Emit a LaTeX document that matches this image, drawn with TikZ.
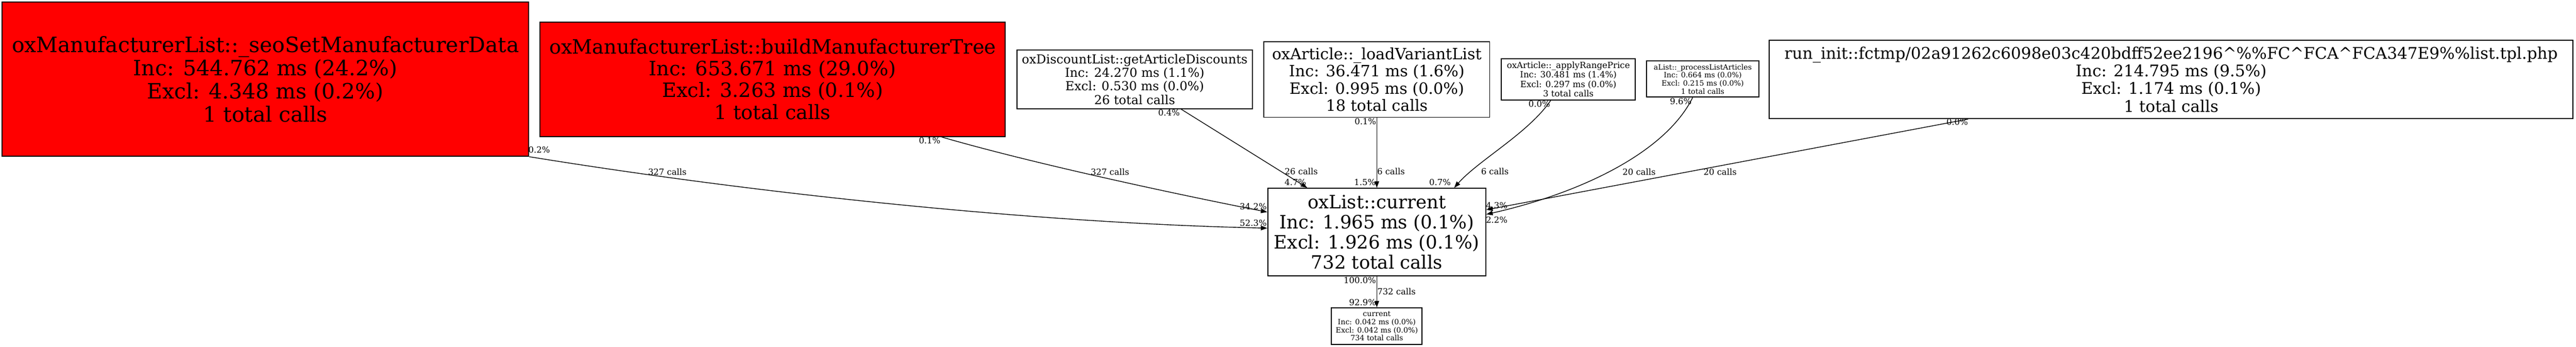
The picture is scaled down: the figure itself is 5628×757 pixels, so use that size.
\documentclass[tikz,border=0pt]{standalone}
\usepackage{fontspec}
\setmainfont{DejaVu Serif}
\usetikzlibrary{arrows.meta}

\newcommand\pxfont[1]{\fontsize{\fpeval{#1*0.28453}pt}{\fpeval{#1*0.28453*1.1}pt}\selectfont}

\tikzset{
  func/.style={draw, line width=0.6pt, align=center, inner sep=0pt},
  hot/.style={func, fill=red},
  call/.style={draw, line width=0.45pt, -{Triangle[length=0.14cm,width=0.1cm]}},
  via/.style 2 args={to path={.. controls #1 and #2 .. (\tikztotarget)}},
}

\begin{document}
\begin{tikzpicture}[x=0.01cm, y=-0.01cm]

      \useasboundingbox (0,0) rectangle (5628,757);

      \begin{scope}[every node/.style={func}]
        \node[hot, minimum width=11.5cm, minimum height=3.36cm, font=\pxfont{46}] (1) at (580,173)
          {oxManufacturerList::\_seoSetManufacturerData\\Inc: 544.762 ms (24.2\%)\\Excl: 4.348 ms (0.2\%)\\1 total calls};
        \node[hot, minimum width=10.16cm, minimum height=2.5cm, font=\pxfont{43}] (2) at (1688,173)
          {oxManufacturerList::buildManufacturerTree\\Inc: 653.671 ms (29.0\%)\\Excl: 3.263 ms (0.1\%)\\1 total calls};
        \node[minimum width=5.14cm, minimum height=1.28cm, font=\pxfont{27}] (3) at (2479,173)
          {oxDiscountList::getArticleDiscounts\\Inc: 24.270 ms (1.1\%)\\Excl: 0.530 ms (0.0\%)\\26 total calls};
        \node[minimum width=4.93cm, minimum height=1.65cm, font=\pxfont{34}] (4) at (3008,173.5)
          {oxArticle::\_loadVariantList\\Inc: 36.471 ms (1.6\%)\\Excl: 0.995 ms (0.0\%)\\18 total calls};
        \node[minimum width=2.93cm, minimum height=0.9cm, font=\pxfont{18.7}] (5) at (3426.5,173)
          {oxArticle::\_applyRangePrice\\Inc: 30.481 ms (1.4\%)\\Excl: 0.297 ms (0.0\%)\\3 total calls};
        \node[minimum width=2.46cm, minimum height=0.79cm, font=\pxfont{16}] (6) at (3720,172.5)
          {aList::\_processListArticles\\Inc: 0.664 ms (0.0\%)\\Excl: 0.215 ms (0.0\%)\\1 total calls};
        \node[minimum width=17.55cm, minimum height=1.71cm, font=\pxfont{35}] (7) at (4743.5,173.5)
          {run\_init::fctmp/02a91262c6098e03c420bdff52ee2196\textasciicircum\%\%FC\textasciicircum FCA\textasciicircum FCA347E9\%\%list.tpl.php\\Inc: 214.795 ms (9.5\%)\\Excl: 1.174 ms (0.1\%)\\1 total calls};
        \node[minimum width=4.76cm, minimum height=1.91cm, font=\pxfont{40}] (8) at (3008,506.5)
          {oxList::current\\Inc: 1.965 ms (0.1\%)\\Excl: 1.926 ms (0.1\%)\\732 total calls};
        \node[minimum width=1.98cm, minimum height=0.8cm, font=\pxfont{16}] (9) at (3008,712)
          {current\\Inc: 0.042 ms (0.0\%)\\Excl: 0.042 ms (0.0\%)\\734 total calls};
      \end{scope}

      \path (1.south east) edge[call, via={(1700,430)}{(2300,488)}] ([yshift=0.085cm]8.west);
      \path ([xshift=-1.4cm]2.south east) edge[call, via={(2250,355)}{(2550,420)}] ([yshift=0.435cm]8.west);
      \path ([xshift=1.01cm]3.south) edge[call] ([xshift=-1.52cm]8.north);
      \path (4.south) edge[call] (8.north);
      \path ([xshift=-0.385cm]5.south) edge[call, via={(3340,290)}{(3230,350)}] ([xshift=1.69cm]8.north);
      \path ([xshift=-0.22cm]6.south) edge[call, via={(3640,330)}{(3460,420)}] ([yshift=0.385cm]8.east);
      \path ([xshift=-4.435cm]7.south) edge[call] ([yshift=0.485cm]8.east);
      \path (8.south) edge[call] (9.north);

      \begin{scope}[every node/.style={anchor=base, inner sep=0pt, font=\pxfont{18.5}}]
        \node (1t) at (1178,334) {0.2\%};
        \node (1m) at (1458,382) {327 calls};
        \node (1h) at (2738,493) {52.3\%};
        \node (2t) at (2031,313) {0.1\%};
        \node (2m) at (2425,382) {327 calls};
        \node (2h) at (2738,458) {34.2\%};
        \node (3t) at (2554,253) {0.4\%};
        \node (3m) at (2843,381) {26 calls};
        \node (3h) at (2830,405) {4.7\%};
        \node (4t) at (2983,272) {0.1\%};
        \node (4m) at (3039,381) {6 calls};
        \node (4h) at (2982,405) {1.5\%};
        \node (5t) at (3363,234) {0.0\%};
        \node (5m) at (3266,381) {6 calls};
        \node (5h) at (3146,405) {0.7\%};
        \node (6t) at (3672,228) {9.6\%};
        \node (6m) at (3581,382) {20 calls};
        \node (6h) at (3270,487) {2.2\%};
        \node (7t) at (4276,273) {0.0\%};
        \node (7m) at (3758,382) {20 calls};
        \node (7h) at (3270,455) {4.3\%};
        \node (8t) at (2971,618) {100.0\%};
        \node (8m) at (3051,643) {732 calls};
        \node (8h) at (2977,667) {92.9\%};
      \end{scope}

    \end{tikzpicture}
\end{document}
